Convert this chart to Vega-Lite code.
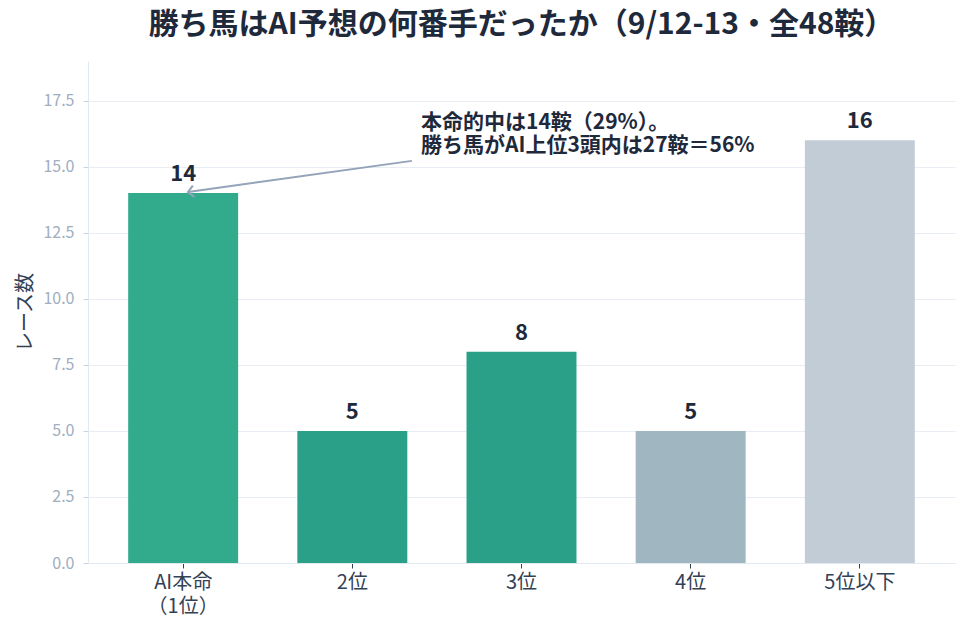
{
  "$schema": "https://vega.github.io/schema/vega-lite/v6.json",
  "autosize": {"type": "none"},
  "padding": {"left": 88, "top": 61, "right": 12, "bottom": 71},
  "width": 867,
  "height": 502,
  "title": {
    "text": "勝ち馬はAI予想の何番手だったか（9/12-13・全48鞍）",
    "fontSize": 30,
    "fontWeight": "bold",
    "color": "#1e293b",
    "font": "Noto Sans CJK JP",
    "offset": 21
  },
  "config": {
    "font": "Noto Sans CJK JP",
    "view": {"stroke": null}
  },
  "resolve": {"scale": {"x": "independent"}, "axis": {"x": "independent"}},
  "layer": [
    {
      "data": {
        "values": [
          {"rank": "AI本命\n（1位）", "races": 14},
          {"rank": "2位", "races": 5},
          {"rank": "3位", "races": 8},
          {"rank": "4位", "races": 5},
          {"rank": "5位以下", "races": 16}
        ]
      },
      "encoding": {
        "x": {
          "field": "rank",
          "type": "nominal",
          "sort": null,
          "scale": {"paddingInner": 0.35, "paddingOuter": 0.2375},
          "axis": {
            "title": null,
            "labelAngle": 0,
            "labelExpr": "split(datum.label, '\\n')",
            "labelFontSize": 20,
            "labelColor": "#334155",
            "labelLineHeight": 24,
            "labelPadding": 4,
            "tickColor": "#334155",
            "tickSize": 5,
            "domainColor": "#e2e8f0",
            "grid": false
          }
        },
        "y": {
          "field": "races",
          "type": "quantitative",
          "scale": {"domain": [0, 19], "nice": false},
          "axis": {
            "title": "レース数",
            "titleFontSize": 20,
            "titleFontWeight": "normal",
            "titleColor": "#334155",
            "titlePadding": 7,
            "values": [0, 2.5, 5, 7.5, 10, 12.5, 15, 17.5],
            "format": ".1f",
            "labelFontSize": 16,
            "labelColor": "#a0aec0",
            "labelPadding": 9,
            "tickColor": "#cbd5e1",
            "tickSize": 5,
            "domainColor": "#e2e8f0",
            "gridColor": "#e8edf3"
          }
        }
      },
      "layer": [
        {
          "mark": {"type": "bar"},
          "encoding": {
            "color": {
              "field": "rank",
              "type": "nominal",
              "legend": null,
              "scale": {
                "domain": ["AI本命\n（1位）", "2位", "3位", "4位", "5位以下"],
                "range": ["#32aa8c", "#2aa088", "#2aa088", "#a0b7c1", "#c2ccd7"]
              }
            }
          }
        },
        {
          "mark": {
            "type": "text",
            "baseline": "alphabetic",
            "dy": -12,
            "fontSize": 22,
            "fontWeight": "bold",
            "color": "#1e293b"
          },
          "encoding": {
            "text": {"field": "races", "type": "quantitative"}
          }
        }
      ]
    },
    {
      "layer": [
        {
          "data": {"values": [{"x0": 1.352, "y0": 15.22, "x1": 0.0285, "y1": 14.04}]},
          "mark": {"type": "rule", "color": "#94a3b8", "strokeWidth": 2},
          "encoding": {
            "x": {"field": "x0", "type": "quantitative", "scale": {"domain": [-0.5625, 4.5625], "nice": false, "zero": false}, "axis": null},
            "y": {"field": "y0", "type": "quantitative", "scale": {"domain": [0, 19], "nice": false}},
            "x2": {"field": "x1"},
            "y2": {"field": "y1"}
          }
        },
        {
          "data": {"values": [{"x1": 0.0285, "y1": 14.04}]},
          "mark": {
            "type": "point",
            "shape": "M -1 -1 L 0 0 L -1 1",
            "filled": false,
            "size": 130,
            "angle": 172,
            "stroke": "#94a3b8",
            "strokeWidth": 2,
            "opacity": 1
          },
          "encoding": {
            "x": {"field": "x1", "type": "quantitative", "scale": {"domain": [-0.5625, 4.5625], "nice": false, "zero": false}, "axis": null},
            "y": {"field": "y1", "type": "quantitative", "scale": {"domain": [0, 19], "nice": false}}
          }
        },
        {
          "data": {
            "values": [
              {"x": 1.406, "y": 16.64, "note": "本命的中は14鞍（29%）。"},
              {"x": 1.406, "y": 15.77, "note": "勝ち馬がAI上位3頭内は27鞍＝56%"}
            ]
          },
          "mark": {
            "type": "text",
            "align": "left",
            "baseline": "middle",
            "fontSize": 21,
            "fontWeight": "bold",
            "color": "#1e293b"
          },
          "encoding": {
            "x": {"field": "x", "type": "quantitative", "scale": {"domain": [-0.5625, 4.5625], "nice": false, "zero": false}, "axis": null},
            "y": {"field": "y", "type": "quantitative", "scale": {"domain": [0, 19], "nice": false}},
            "text": {"field": "note"}
          }
        }
      ]
    }
  ]
}
